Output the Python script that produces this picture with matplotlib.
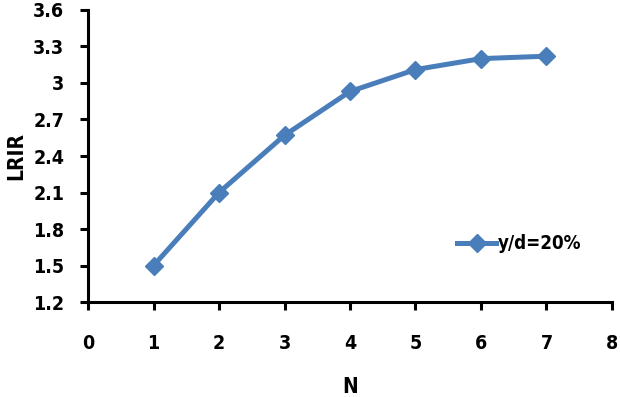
import matplotlib.pyplot as plt

n_values = [1, 2, 3, 4, 5, 6, 7]
lrir = [1.5, 2.1, 2.57, 2.93, 3.11, 3.2, 3.22]
series_label = "y/d=20%"

plt.rcParams['font.family'] = ['DejaVu Sans']
plt.rcParams['font.stretch'] = 'condensed'
plt.rcParams['font.weight'] = 'bold'

fig = plt.figure(figsize=(6.2, 3.97), dpi=100)
ax = fig.add_axes([0.142, 0.239, 0.845, 0.736])

ax.plot(n_values, lrir, color="#4A7EBB", linewidth=3.6, marker="D",
        markersize=9.5, label=series_label)

ax.set_xlim(0, 8)
ax.set_ylim(1.2, 3.6)
ax.set_xticks(range(0, 9))
ax.set_yticks([1.2, 1.5, 1.8, 2.1, 2.4, 2.7, 3.0, 3.3, 3.6])
ax.set_yticklabels(["1.2", "1.5", "1.8", "2.1", "2.4", "2.7", "3", "3.3", "3.6"])

for side in ["top", "right"]:
    ax.spines[side].set_visible(False)
for side in ["left", "bottom"]:
    ax.spines[side].set_linewidth(2.2)
ax.tick_params(direction="out", length=6, width=2.2, labelsize=14, pad=11)
ax.tick_params(axis="x", pad=17)

ax.set_xlabel("N", fontsize=15, fontweight="bold", labelpad=17)
ax.set_ylabel("LRIR", fontsize=15, fontweight="bold", labelpad=5)

ax.legend(loc="center left", bbox_to_anchor=(0.672, 0.2), frameon=False,
          prop={"size": 13.5, "weight": "bold", "stretch": "condensed"},
          handlelength=2.1, handletextpad=0.1)

plt.savefig("out.png")
